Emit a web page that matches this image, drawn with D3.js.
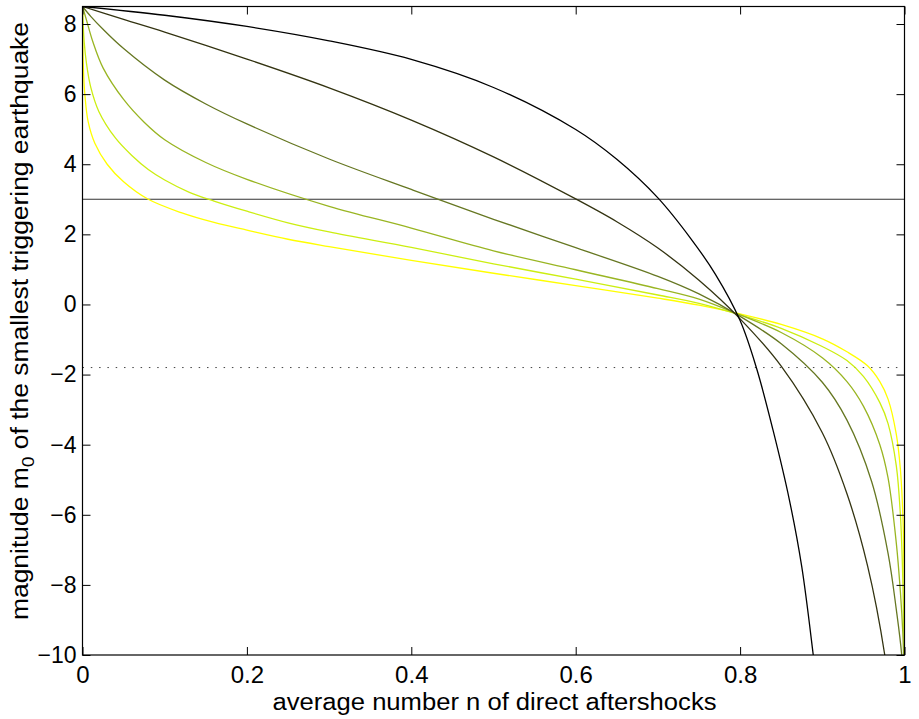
<!DOCTYPE html>
<html>
<head>
<meta charset="utf-8">
<script src="https://cdn.jsdelivr.net/npm/d3@7"></script>
<style>
  body { margin: 0; background: #fff; }
  svg { display: block; font-family: "Liberation Sans", Arial, Helvetica, sans-serif; }
</style>
</head>
<body>
<svg role="chart"></svg>
<script>
// axis ticks
var nTicks = [0, 0.2, 0.4, 0.6, 0.8, 1];
var mTicks = [-10, -8, -6, -4, -2, 0, 2, 4, 6, 8];

// reference levels
var solidLevel = 3;
var dottedLevel = -1.8;

// curves as [n, m0] pairs (dark to light)
var curveColors = ['#000000', '#333311', '#667722', '#99b522', '#ccee11', '#ffff00'];

var curve1 = [[0, 8.5], [0.1, 8.25], [0.2, 7.93], [0.3, 7.52], [0.4, 6.99], [0.5, 6.19],
  [0.6, 4.99], [0.65, 4.14], [0.7, 3.04], [0.74, 1.88], [0.77, 0.86], [0.8, -0.46],
  [0.82, -1.82], [0.84, -3.58], [0.86, -5.58], [0.875, -7.48], [0.889, -10], [0.895, -11.2]];

var curve2 = [[0, 8.5], [0.05, 8.13], [0.1, 7.77], [0.2, 7.0], [0.3, 6.18], [0.4, 5.26],
  [0.5, 4.21], [0.6, 3.01], [0.65, 2.36], [0.7, 1.61], [0.75, 0.69], [0.8, -0.41],
  [0.85, -1.76], [0.9, -3.66], [0.93, -5.4], [0.955, -7.45], [0.976, -10], [0.98, -10.8]];

var curve3 = [[0, 8.5], [0.01, 8.22], [0.025, 7.85], [0.05, 7.3], [0.1, 6.4], [0.15, 5.72],
  [0.2, 5.15], [0.3, 4.15], [0.4, 3.28], [0.5, 2.43], [0.6, 1.62], [0.7, 0.8], [0.75, 0.3],
  [0.8, -0.34], [0.85, -1.12], [0.9, -2.22], [0.93, -3.3], [0.96, -5.05], [0.98, -7.1],
  [0.99, -8.7], [0.9966, -10], [1.0, -11.5]];

var curve4 = [[0, 8.5], [0.005, 8.1], [0.0125, 7.5], [0.025, 6.75], [0.05, 5.85], [0.075, 5.2],
  [0.1, 4.7], [0.15, 4.05], [0.2, 3.57], [0.3, 2.8], [0.4, 2.18], [0.5, 1.53], [0.6, 0.99],
  [0.7, 0.45], [0.75, 0.15], [0.8, -0.3], [0.85, -0.8], [0.9, -1.52], [0.93, -2.2],
  [0.95, -2.9], [0.97, -4.0], [0.98, -4.95], [0.99, -6.8], [0.995, -8.2], [0.998, -9.4],
  [1.0, -11]];

var curve5 = [[0, 8.5], [0.002, 7.5], [0.005, 6.85], [0.01, 6.2], [0.02, 5.5], [0.04, 4.75],
  [0.06, 4.25], [0.08, 3.85], [0.1, 3.55], [0.13, 3.2], [0.16, 2.95], [0.2, 2.66],
  [0.25, 2.33], [0.3, 2.07], [0.4, 1.63], [0.5, 1.16], [0.6, 0.72], [0.7, 0.27], [0.75, 0.03],
  [0.8, -0.3], [0.85, -0.68], [0.9, -1.2], [0.93, -1.6], [0.95, -2.05], [0.97, -2.8],
  [0.98, -3.4], [0.99, -4.6], [0.995, -6.0], [0.998, -7.9], [1.0, -11]];

var curve6 = [[0, 8.5], [0.001, 6.8], [0.003, 5.95], [0.007, 5.2], [0.015, 4.6], [0.03, 4.0],
  [0.05, 3.5], [0.08, 3.0], [0.12, 2.62], [0.16, 2.34], [0.2, 2.12], [0.25, 1.86], [0.3, 1.65],
  [0.4, 1.26], [0.5, 0.89], [0.6, 0.54], [0.7, 0.18], [0.75, -0.02], [0.8, -0.27],
  [0.85, -0.57], [0.9, -0.98], [0.93, -1.35], [0.955, -1.75], [0.97, -2.2], [0.98, -2.7],
  [0.99, -3.7], [0.995, -4.7], [0.998, -6.0], [0.9995, -7.8], [1.0, -11]];

var curves = [curve1, curve2, curve3, curve4, curve5, curve6];

var xTitle = 'average number n of direct aftershocks';
var yTitle = ['magnitude m', '0', ' of the smallest triggering earthquake'];

(function(){

  var width = 919,
      height = 719,
      margin = {
        top: 6.5,
        left: 82.5,
        right: 14.5,
        bottom: 64
      };

  var svg = d3.select('[role="chart"]')
    .attr('width', width)
    .attr('height', height);

  svg.append('rect')
    .attr('width', width)
    .attr('height', height)
    .attr('fill', '#fff');

  var x = d3.scaleLinear()
    .domain([0, 1])
    .range([margin.left, width - margin.right]);

  var y = d3.scaleLinear()
    .domain([-10, 8.5])
    .range([height - margin.bottom, margin.top]);

  svg.append('clipPath')
    .attr('id', 'plot-clip')
    .append('rect')
    .attr('x', x(0))
    .attr('y', y(8.5))
    .attr('width', x(1) - x(0))
    .attr('height', y(-10) - y(8.5));

  var plot = svg.append('g')
    .attr('clip-path', 'url(#plot-clip)');

  // horizontal reference lines
  plot.append('line')
    .attr('x1', x(0)).attr('x2', x(1))
    .attr('y1', y(solidLevel)).attr('y2', y(solidLevel))
    .attr('stroke', '#333')
    .attr('stroke-width', 1.1);

  plot.append('line')
    .attr('x1', x(0)).attr('x2', x(1))
    .attr('y1', y(dottedLevel)).attr('y2', y(dottedLevel))
    .attr('stroke', '#444')
    .attr('stroke-width', 1)
    .attr('stroke-dasharray', '1.5,6.8');

  var line = d3.line()
    .x(function(d) { return x(d[0]); })
    .y(function(d) { return y(d[1]); })
    .curve(d3.curveCatmullRom.alpha(0.5));

  // light curves first so the dark ones sit on top
  plot.selectAll('path.curve')
    .data(curves.slice().reverse())
    .enter()
    .append('path')
    .attr('class', 'curve')
    .attr('fill', 'none')
    .attr('stroke-width', 1.3)
    .attr('stroke', function(d, i) {
      return curveColors[curveColors.length - 1 - i];
    })
    .attr('d', line);

  // axes, ticks pointing inwards on all four sides
  var fmt = d3.format('');

  svg.append('g')
    .attr('transform', 'translate(' + x(0) + ',0)')
    .style('font-size', '23px')
    .call(d3.axisLeft(y).tickValues(mTicks).tickFormat(fmt)
      .tickSizeInner(-8).tickSizeOuter(0).tickPadding(6))
    .call(function(g) { g.select('.domain').remove(); })
    .call(function(g) {
      g.selectAll('text').attr('fill', '#000').style('font-family', 'inherit');
    });

  svg.append('g')
    .attr('transform', 'translate(' + x(1) + ',0)')
    .call(d3.axisRight(y).tickValues(mTicks).tickFormat('')
      .tickSizeInner(-8).tickSizeOuter(0))
    .call(function(g) { g.select('.domain').remove(); });

  svg.append('g')
    .attr('transform', 'translate(0,' + y(-10) + ')')
    .style('font-size', '24px')
    .call(d3.axisBottom(x).tickValues(nTicks).tickFormat(fmt)
      .tickSizeInner(-8).tickSizeOuter(0).tickPadding(11))
    .call(function(g) { g.select('.domain').remove(); })
    .call(function(g) {
      g.selectAll('text').attr('fill', '#000').style('font-family', 'inherit');
    });

  svg.append('g')
    .attr('transform', 'translate(0,' + y(8.5) + ')')
    .call(d3.axisTop(x).tickValues(nTicks).tickFormat('')
      .tickSizeInner(-8).tickSizeOuter(0))
    .call(function(g) { g.select('.domain').remove(); });

  // box
  svg.append('rect')
    .attr('x', x(0))
    .attr('y', y(8.5))
    .attr('width', x(1) - x(0))
    .attr('height', y(-10) - y(8.5))
    .attr('fill', 'none')
    .attr('stroke', '#000')
    .attr('stroke-width', 1.2);

  // axis titles
  svg.append('text')
    .attr('x', (x(0) + x(1)) / 2 + 1)
    .attr('y', 710)
    .attr('text-anchor', 'middle')
    .attr('font-size', 23)
    .attr('textLength', 444)
    .attr('lengthAdjust', 'spacingAndGlyphs')
    .text(xTitle);

  var yt = svg.append('text')
    .attr('transform', 'translate(28,321) rotate(-90)')
    .attr('text-anchor', 'middle')
    .attr('font-size', 23)
    .attr('textLength', 598)
    .attr('lengthAdjust', 'spacingAndGlyphs');
  yt.append('tspan').text(yTitle[0]);
  yt.append('tspan').attr('dy', 6).attr('font-size', 17).text(yTitle[1]);
  yt.append('tspan').attr('dy', -6).text(yTitle[2]);

})();
</script>
</body>
</html>
